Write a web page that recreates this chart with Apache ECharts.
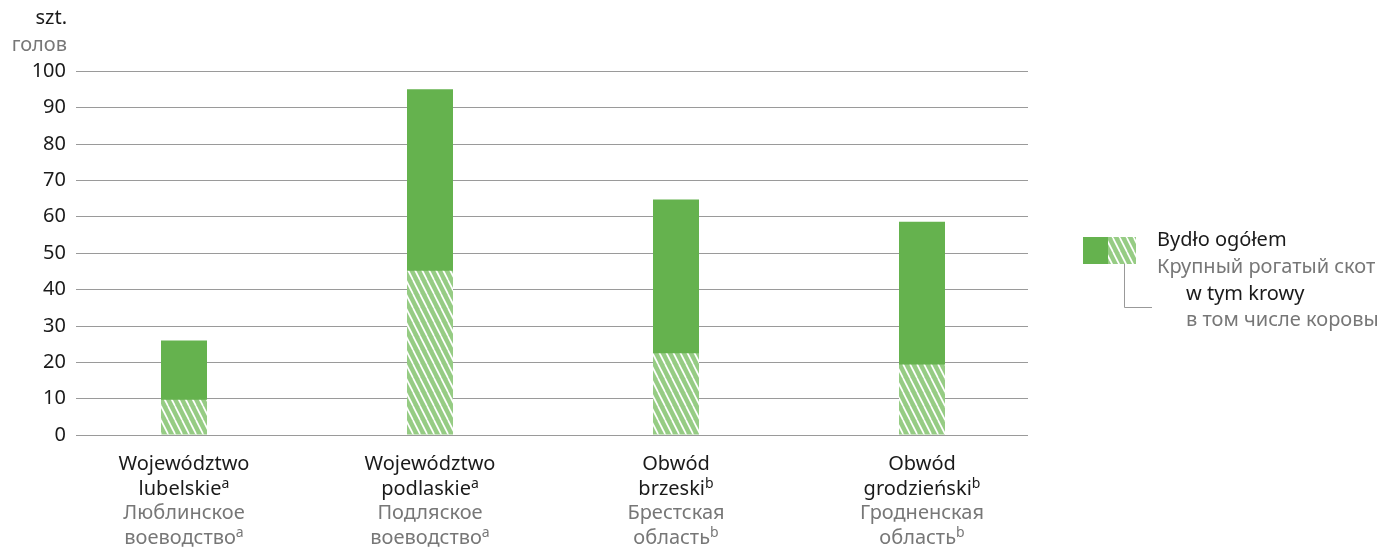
<!DOCTYPE html>
<html><head><meta charset="utf-8">
<script src="https://cdn.jsdelivr.net/npm/echarts@6/dist/echarts.min.js"></script>
<style>html,body{margin:0;padding:0;background:#fff}#c{width:1383px;height:548px}</style>
</head><body><div id="c"></div>
<script>
// ---- data ----
var catPL1 = ['Województwo', 'Województwo', 'Obwód', 'Obwód'];
var catPL2 = ['lubelskie', 'podlaskie', 'brzeski', 'grodzieński'];
var catRU1 = ['Люблинское', 'Подляское', 'Брестская', 'Гродненская'];
var catRU2 = ['воеводство', 'воеводство', 'область', 'область'];
var catNote = ['a', 'a', 'b', 'b'];
var cattleTotal = [25.8, 95, 64.6, 58.5];
var cows = [9.5, 45, 22.3, 19.2];
var yTicks = [0, 10, 20, 30, 40, 50, 60, 70, 80, 90, 100];
var seriesNames = ['Bydło ogółem', 'w tym krowy'];
var seriesNamesRU = ['Крупный рогатый скот', 'в том числе коровы'];
var unitPL = 'szt.', unitRU = 'голов';

var FONT = 'Noto Sans';
var FS = 20;
var GREEN = '#65b24e', LIGHT = '#96cc84', GRAY = '#777777', DARK = '#1a1a1a';

function hatch() {
  var c = document.createElement('canvas');
  c.width = 7; c.height = 14;
  var x = c.getContext('2d');
  x.fillStyle = LIGHT; x.fillRect(0, 0, 7, 14);
  x.strokeStyle = '#ffffff'; x.lineWidth = 1.7;
  for (var k = -1; k <= 1; k++) {
    x.beginPath(); x.moveTo(k * 7, 0); x.lineTo(k * 7 + 7, 14); x.stroke();
  }
  return { image: c, repeat: 'repeat' };
}
var pat = hatch();

var cats = catPL1.map(function (_, i) { return i; });
var chart = echarts.init(document.getElementById('c'), null, { renderer: 'canvas' });
function txt(x, y, s, color, align) {
  return { type: 'text', x: x, y: y, style: { text: s, fontSize: FS, fill: color, fontFamily: FONT, textAlign: align || 'left', textVerticalAlign: 'middle' } };
}
chart.setOption({
  animation: false,
  textStyle: { fontFamily: FONT },
  grid: [
    { left: 76, right: 355, top: 71, bottom: 113 },
    { left: 61, width: 984, top: 71, bottom: 113 }
  ],
  xAxis: [
    { gridIndex: 0, type: 'category', data: cats, show: false },
    {
      gridIndex: 1, type: 'category', data: cats,
      axisLine: { show: false }, axisTick: { show: false },
      axisLabel: {
        margin: 18, interval: 0,
        formatter: function (v, i) {
          return '{a|' + catPL1[i] + '}\n{a|' + catPL2[i] + '}{sa|' + catNote[i] + '}\n{g|' + catRU1[i] + '}\n{g|' + catRU2[i] + '}{sg|' + catNote[i] + '}';
        },
        rich: {
          a: { fontSize: FS, color: DARK, lineHeight: 24.5, fontFamily: FONT },
          g: { fontSize: FS, color: GRAY, lineHeight: 24.5, fontFamily: FONT },
          sa: { fontSize: 14, color: DARK, lineHeight: 24.5, verticalAlign: 'top', padding: [0, 0, 6, 0], fontFamily: FONT },
          sg: { fontSize: 14, color: GRAY, lineHeight: 24.5, verticalAlign: 'top', padding: [0, 0, 6, 0], fontFamily: FONT }
        }
      }
    }
  ],
  yAxis: [
    {
      gridIndex: 0, type: 'value', min: yTicks[0], max: yTicks[yTicks.length - 1], interval: 10,
      axisLine: { show: false }, axisTick: { show: false },
      axisLabel: { fontSize: FS, color: DARK, margin: 10, fontFamily: FONT },
      splitLine: { lineStyle: { color: '#9a9a9a', width: 1 } }
    },
    { gridIndex: 1, type: 'value', min: 0, max: 100, show: false, splitLine: { show: false } }
  ],
  series: [
    { name: seriesNames[0], type: 'bar', xAxisIndex: 1, yAxisIndex: 1, data: cattleTotal, barWidth: 46, itemStyle: { color: GREEN } },
    { name: seriesNames[1], type: 'bar', xAxisIndex: 1, yAxisIndex: 1, data: cows, barWidth: 46, barGap: '-100%', itemStyle: { color: pat } }
  ],
  graphic: [
    txt(67, 18, unitPL, DARK, 'right'),
    txt(67, 45, unitRU, GRAY, 'right'),
    { type: 'rect', shape: { x: 1083, y: 237, width: 25, height: 27 }, style: { fill: GREEN } },
    { type: 'rect', shape: { x: 1108, y: 237, width: 28, height: 27 }, style: { fill: pat } },
    { type: 'polyline', shape: { points: [[1124.5, 264], [1124.5, 307.5], [1152, 307.5]] }, style: { stroke: '#999', lineWidth: 1, fill: null } },
    txt(1157, 240, seriesNames[0], DARK),
    txt(1157, 267, seriesNamesRU[0], GRAY),
    txt(1186, 294, seriesNames[1], DARK),
    txt(1186, 320, seriesNamesRU[1], GRAY)
  ]
});
</script></body></html>
